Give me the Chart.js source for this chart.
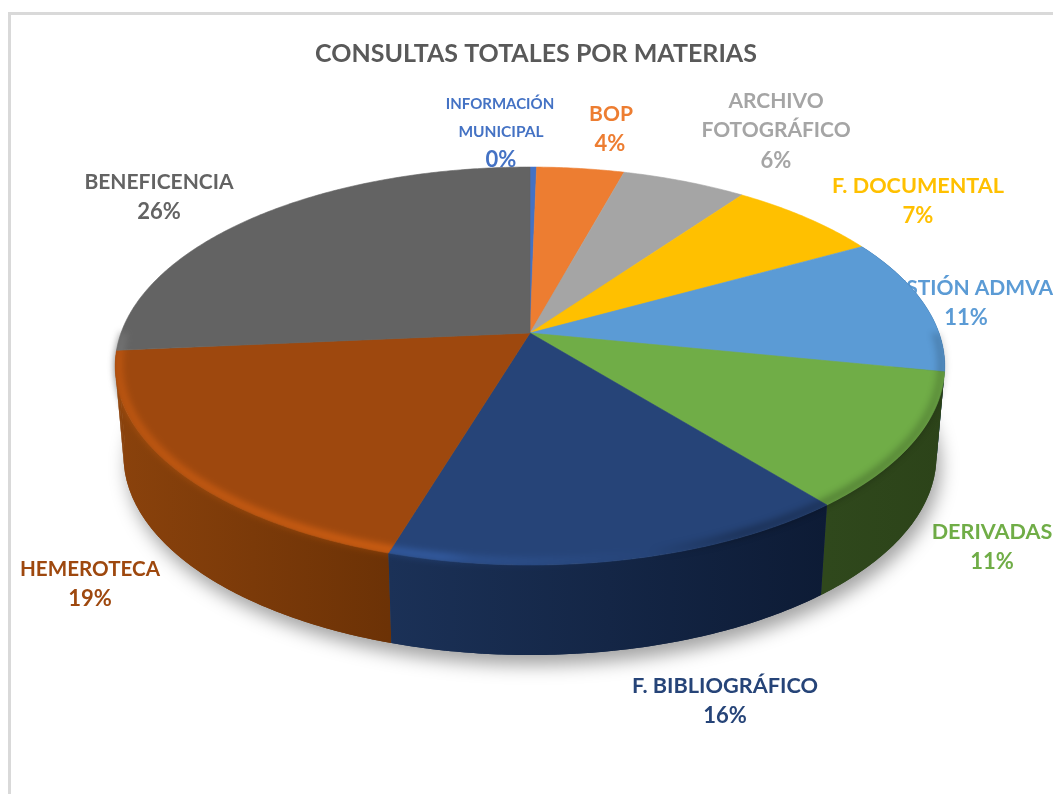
<!DOCTYPE html>
<html><head><meta charset="utf-8">
<style>html,body{margin:0;padding:0;background:#fff}canvas{display:block}</style>
<script src="https://cdn.jsdelivr.net/npm/chart.js@4"></script>
</head><body><canvas id="c" width="1053" height="794"></canvas>
<script>
const categories = ['INFORMACIÓN MUNICIPAL','BOP','ARCHIVO FOTOGRÁFICO','F. DOCUMENTAL','GESTIÓN ADMVA','DERIVADAS','F. BIBLIOGRÁFICO','HEMEROTECA','BENEFICENCIA'];
const values = [0.3,4.0,5.7,7.0,11.1,11.0,15.6,18.9,26.4];
const sliceColors = ['#4472c4','#ed7d31','#a5a5a5','#ffc000','#5b9bd5','#70ad47','#264478','#9e480e','#636363'];
const sideLeft  = ['#2c4a80','#9a5120','#6b6b6b','#a67d00','#2f5f8c','#2f481c','#1b3157','#8a420c','#404040'];
const sideRight = ['#2c4a80','#9a5120','#6b6b6b','#a67d00','#2a5580','#2c4319','#0d1b35','#6c3206','#404040'];
const titleText = 'CONSULTAS TOTALES POR MATERIAS';

// where each label is written: [lines of text with centre x, centre y, font px]
const labelLayout = [
  [['INFORMACIÓN',500,104,15],['MUNICIPAL',501,132,15.5],['0%',501,160,22]],
  [['BOP',611,114,21],['4%',610,144,22]],
  [['ARCHIVO',776,101,21],['FOTOGRÁFICO',776,130,21],['6%',776,161,22]],
  [['F. DOCUMENTAL',918,186,21.6],['7%',918,216,22]],
  [['GESTIÓN ADMVA',966,288,21],['11%',966,318,22]],
  [['DERIVADAS',992,532,21.6],['11%',992,562,22]],
  [['F. BIBLIOGRÁFICO',725,686,21.7],['16%',725,716,22]],
  [['HEMEROTECA',90,569,20.6],['19%',90,599,22]],
  [['BENEFICENCIA',159,182,21],['26%',159,212,22]]
];

// oblique view of the disc
const view = {cx:530, cy:333, rx:409, ry:193.5, k:0.166, depth:90, shrink:0.98};
function topRim(a){const u=Math.cos(a),v=Math.sin(a),w=1-view.k*v;
  return [view.cx+view.rx*u/w, view.cy+view.ry*v/w];}
function bottomRim(a){const u=Math.cos(a),v=Math.sin(a),w=1-view.k*v;
  return [view.cx+view.shrink*view.rx*u/w, view.cy+view.depth+view.ry*v/w];}
function rim(ctx,f,a0,a1,first){const n=Math.max(2,Math.ceil(Math.abs(a1-a0)/0.01));
  for(let i=0;i<=n;i++){const p=f(a0+(a1-a0)*i/n);
    if(i===0&&first)ctx.moveTo(p[0],p[1]);else ctx.lineTo(p[0],p[1]);}}
function insetRim(a){const p=topRim(a);return [view.cx+(p[0]-view.cx)*0.992,view.cy+(p[1]-view.cy)*0.985];}

const pie3d = {
  id:'pie3d',
  beforeDatasetsDraw(chart){
    const ctx=chart.ctx, arcs=chart.getDatasetMeta(0).data;
    // frame
    ctx.save();ctx.fillStyle='#d9d9d9';
    ctx.fillRect(8,12,1045,3);ctx.fillRect(8,12,3,782);ctx.restore();
    // labels lie behind the disc
    ctx.save();ctx.textAlign='center';ctx.textBaseline='middle';
    labelLayout.forEach((lines,i)=>{
      ctx.fillStyle=sliceColors[i];
      lines.forEach(l=>{ctx.font='bold '+l[3]+'px Lato';ctx.fillText(l[0],l[1],l[2]);});
    });
    ctx.restore();
    // soft shadow
    ctx.save();ctx.filter='blur(9px)';ctx.fillStyle='rgba(0,0,0,0.36)';
    ctx.translate(4,10);ctx.beginPath();rim(ctx,bottomRim,0,Math.PI*2,true);ctx.closePath();ctx.fill();ctx.restore();
    // sides, back to front; slices facing away are skipped
    const order=arcs.map((a,i)=>i).sort((p,q)=>
      Math.sin((arcs[p].startAngle+arcs[p].endAngle)/2)-Math.sin((arcs[q].startAngle+arcs[q].endAngle)/2));
    order.forEach(i=>{
      const a=arcs[i], p0=topRim(a.startAngle), p1=topRim(a.endAngle);
      if(Math.sin((a.startAngle+a.endAngle)/2)<-0.5) return;
      const g=ctx.createLinearGradient(Math.min(p0[0],p1[0]),0,Math.max(p0[0],p1[0])+1,0);
      g.addColorStop(0,sideLeft[i]);g.addColorStop(1,sideRight[i]);
      ctx.fillStyle=g;ctx.beginPath();
      rim(ctx,topRim,a.startAngle,a.endAngle,true);
      rim(ctx,bottomRim,a.endAngle,a.startAngle,false);
      ctx.closePath();ctx.fill();
      // sweep of the wall, so the tangent edges at the far left and right are filled
      const n=Math.ceil((a.endAngle-a.startAngle)/0.04);
      for(let s=0;s<n;s++){
        const t0=a.startAngle+(a.endAngle-a.startAngle)*s/n, t1=a.startAngle+(a.endAngle-a.startAngle)*(s+1)/n;
        const A=topRim(t0),B=topRim(t1),C=bottomRim(t1),D=bottomRim(t0);
        ctx.beginPath();ctx.moveTo(A[0],A[1]);ctx.lineTo(B[0],B[1]);ctx.lineTo(C[0],C[1]);ctx.lineTo(D[0],D[1]);ctx.closePath();ctx.fill();
      }
    });
    // top faces
    arcs.forEach((a,i)=>{
      ctx.fillStyle=sliceColors[i];ctx.strokeStyle=sliceColors[i];ctx.lineWidth=0.6;
      ctx.beginPath();ctx.moveTo(view.cx,view.cy);
      rim(ctx,topRim,a.startAngle,a.endAngle,false);ctx.closePath();ctx.fill();ctx.stroke();
    });
    // bevel along the front of the rim: shade on the right, light on the left
    ctx.save();
    ctx.filter='blur(3px)';ctx.lineWidth=9;
    const shade=ctx.createConicGradient(0,view.cx,view.cy);
    shade.addColorStop(0,'rgba(0,0,0,0.15)');
    shade.addColorStop(0.12,'rgba(0,0,0,0.25)');
    shade.addColorStop(0.17,'rgba(0,0,0,0)');
    shade.addColorStop(1,'rgba(0,0,0,0)');
    ctx.strokeStyle=shade;
    ctx.beginPath();rim(ctx,insetRim,-0.05,Math.PI,true);ctx.stroke();
    const light=ctx.createConicGradient(0,view.cx,view.cy);
    light.addColorStop(0,'rgba(60,60,60,0)');
    light.addColorStop(0.17,'rgba(60,60,60,0)');
    light.addColorStop(0.29,'rgba(60,60,60,0.55)');
    light.addColorStop(0.31,'rgba(60,60,60,1)');
    light.addColorStop(0.38,'rgba(60,60,60,0.85)');
    light.addColorStop(0.49,'rgba(60,60,60,0.55)');
    light.addColorStop(0.52,'rgba(60,60,60,0)');
    light.addColorStop(1,'rgba(60,60,60,0)');
    ctx.globalCompositeOperation='color-dodge';
    ctx.strokeStyle=light;
    ctx.beginPath();rim(ctx,insetRim,-0.05,Math.PI,true);ctx.stroke();
    ctx.restore();
    return false;
  }
};

new Chart(document.getElementById('c'),{
  type:'pie',
  data:{labels:categories,datasets:[{data:values,backgroundColor:sliceColors,borderWidth:0}]},
  options:{
    responsive:false,animation:false,events:[],
    layout:{padding:{left:19}},
    plugins:{
      legend:{display:false},tooltip:{enabled:false},
      title:{display:true,text:titleText,color:'#595959',font:{family:'Lato',size:25,weight:'bold'},padding:{top:39,bottom:10}}
    }
  },
  plugins:[pie3d]
});
</script></body></html>
